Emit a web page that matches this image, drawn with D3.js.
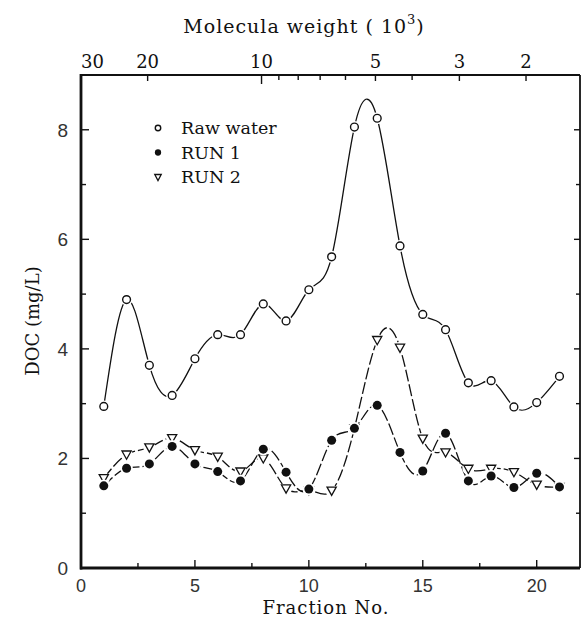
<!DOCTYPE html>
<html><head><meta charset="utf-8">
<script src="https://cdn.jsdelivr.net/npm/d3@7"></script>
<style>body{margin:0;background:#fff}</style>
</head><body>
<svg id="chart" width="582" height="619"></svg>
<script>
// Fraction numbers and DOC readings (mg/L)
const fractions = d3.range(1, 22);
const rawWater = [2.95, 4.90, 3.70, 3.15, 3.82, 4.26, 4.26, 4.82, 4.51, 5.08, 5.68, 8.05, 8.21, 5.88, 4.63, 4.35, 3.38, 3.42, 2.94, 3.02, 3.50];
const run1 = [1.50, 1.82, 1.90, 2.22, 1.90, 1.76, 1.59, 2.17, 1.75, 1.44, 2.33, 2.55, 2.97, 2.11, 1.77, 2.46, 1.59, 1.68, 1.47, 1.73, 1.48];
const run2 = [1.64, 2.07, 2.20, 2.37, 2.15, 2.03, 1.76, 2.00, 1.45, 1.42, 1.41, 2.55, 4.16, 4.02, 2.36, 2.11, 1.81, 1.81, 1.75, 1.52, 1.48];

// Axis ticks
const xTicks = [0, 5, 10, 15, 20];
const xMinor = [2.5, 7.5, 12.5, 17.5];
const yTicks = [0, 2, 4, 6, 8];
const yMinor = [1, 3, 5, 7];
const mwTicks = [30, 20, 10, 5, 3, 2];
const mwMinor = [9, 8, 7, 6, 4];
const mwDomain = [30, 1.44];

const svg = d3.select("#chart");
const L = 81, R = 580, T = 75, B = 568;
const x = d3.scaleLinear().domain([0, 21.9]).range([L, R]);
const y = d3.scaleLinear().domain([0, 9]).range([B, T]);
const mw = d3.scaleLog().domain(mwDomain).range([L, R]);

const serif = "'DejaVu Serif', 'Liberation Serif', serif";
const sans = "'Liberation Sans', 'DejaVu Sans', sans-serif";

// Tick marks (inward)
const tickG = svg.append("g").attr("stroke", "#111").attr("stroke-width", 1.4);
xTicks.forEach(v => tickG.append("line").attr("x1", x(v)).attr("x2", x(v)).attr("y1", B).attr("y2", B - 8));
xMinor.forEach(v => tickG.append("line").attr("x1", x(v)).attr("x2", x(v)).attr("y1", B).attr("y2", B - 5));
yTicks.forEach(v => {
  tickG.append("line").attr("x1", L).attr("x2", L + 8).attr("y1", y(v)).attr("y2", y(v));
  tickG.append("line").attr("x1", R).attr("x2", R - 6).attr("y1", y(v)).attr("y2", y(v));
});
yMinor.forEach(v => {
  tickG.append("line").attr("x1", L).attr("x2", L + 5).attr("y1", y(v)).attr("y2", y(v));
  tickG.append("line").attr("x1", R).attr("x2", R - 4).attr("y1", y(v)).attr("y2", y(v));
});
mwTicks.forEach(v => tickG.append("line").attr("x1", mw(v)).attr("x2", mw(v)).attr("y1", T).attr("y2", T + (v === 10 ? 9 : 6)));
mwMinor.forEach(v => tickG.append("line").attr("x1", mw(v)).attr("x2", mw(v)).attr("y1", T).attr("y2", T + 5));

// Frame
svg.append("line").attr("x1", L).attr("x2", R).attr("y1", T).attr("y2", T).attr("stroke", "#111").attr("stroke-width", 2.2);
svg.append("line").attr("x1", R).attr("x2", R).attr("y1", T).attr("y2", B).attr("stroke", "#111").attr("stroke-width", 1.8);
svg.append("line").attr("x1", L).attr("x2", L).attr("y1", T - 1).attr("y2", B + 1.5).attr("stroke", "#111").attr("stroke-width", 2.8);
svg.append("line").attr("x1", L - 1).attr("x2", R).attr("y1", B).attr("y2", B).attr("stroke", "#111").attr("stroke-width", 2.8);

// Tick labels
svg.append("g").selectAll("text").data(xTicks).join("text")
  .attr("x", d => x(d)).attr("y", 592).attr("text-anchor", "middle")
  .attr("font-family", sans).attr("font-size", 18).attr("fill", "#333").text(d => d);
svg.append("g").selectAll("text").data(yTicks).join("text")
  .attr("x", 68).attr("y", d => y(d) + 7).attr("text-anchor", "end")
  .attr("font-family", sans).attr("font-size", 19).attr("fill", "#333").text(d => d);
svg.append("g").selectAll("text").data(mwTicks).join("text")
  .attr("x", d => mw(d)).attr("y", 68).attr("text-anchor", (d, i) => i === 0 ? "start" : "middle")
  .attr("font-family", serif).attr("font-size", 18).attr("fill", "#111").text(d => d);

// Axis titles
svg.append("text").attr("x", 326).attr("y", 614).attr("text-anchor", "middle")
  .attr("font-family", serif).attr("font-size", 18).attr("letter-spacing", 1)
  .attr("fill", "#111").text("Fraction No.");
svg.append("text").attr("transform", "translate(39,321) rotate(-90)").attr("text-anchor", "middle")
  .attr("font-family", serif).attr("font-size", 18).attr("fill", "#111").text("DOC (mg/L)");
const topTitle = svg.append("text").attr("x", 304).attr("y", 33).attr("text-anchor", "middle")
  .attr("font-family", serif).attr("font-size", 19).attr("letter-spacing", 1).attr("fill", "#111");
topTitle.append("tspan").text("Molecula weight ( 10");
topTitle.append("tspan").attr("dy", -9).attr("font-size", 13).text("3");
topTitle.append("tspan").attr("dy", 9).text(")");

// Curves (RUN 1 drawn last so its filled dots sit on top)
const line = d3.line().curve(d3.curveNatural).x(d => x(d[0])).y(d => y(d[1]));
const series = [
  { values: rawWater, dash: null, marker: "open" },
  { values: run2, dash: "12,3", marker: "tri" },
  { values: run1, dash: "12,3", marker: "filled" }
];
series.forEach(s => {
  svg.append("path").datum(fractions.map((f, i) => [f, s.values[i]]))
    .attr("d", line).attr("fill", "none").attr("stroke", "#111").attr("stroke-width", 1.3)
    .attr("stroke-dasharray", s.dash);
});

function marker(g, type, cx, cy, scale, halo) {
  const k = scale;
  if (type === "open") {
    if (halo) g.append("circle").attr("cx", cx).attr("cy", cy).attr("r", 6 * k).attr("fill", "#fff");
    g.append("circle").attr("cx", cx).attr("cy", cy).attr("r", 3.9 * k).attr("fill", "#fff").attr("stroke", "#111").attr("stroke-width", 1.4);
  } else if (type === "filled") {
    if (halo) g.append("circle").attr("cx", cx).attr("cy", cy).attr("r", 6.3 * k).attr("fill", "#fff");
    g.append("circle").attr("cx", cx).attr("cy", cy).attr("r", 4.5 * k).attr("fill", "#111");
  } else {
    if (halo) g.append("circle").attr("cx", cx).attr("cy", cy).attr("r", 6 * k).attr("fill", "#fff");
    const w = 4.6 * k, h = 3.6 * k;
    g.append("path").attr("d", `M${cx - w},${cy - h}L${cx + w},${cy - h}L${cx},${cy + h + 1}Z`)
      .attr("fill", "#fff").attr("stroke", "#111").attr("stroke-width", 1.3);
  }
}

series.forEach(s => {
  const g = svg.append("g");
  fractions.forEach((f, i) => marker(g, s.marker, x(f), y(s.values[i]), 1, true));
});

// Legend
const legend = [
  { label: "Raw water", marker: "open" },
  { label: "RUN 1", marker: "filled" },
  { label: "RUN 2", marker: "tri" }
];
const lg = svg.append("g");
legend.forEach((d, i) => {
  const cy = 128 + i * 24.5;
  marker(lg, d.marker, 158, cy, 0.7, false);
  lg.append("text").attr("x", 181).attr("y", cy + 6).attr("font-family", serif)
    .attr("font-size", 17.5).attr("fill", "#111").text(d.label);
});
</script>
</body></html>
